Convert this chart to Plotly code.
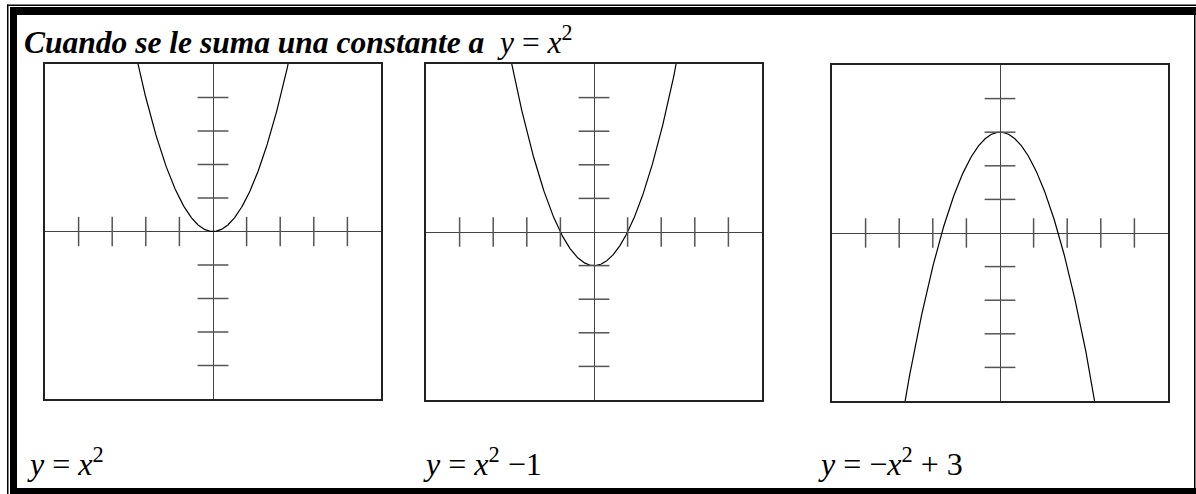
import numpy as np
import plotly.graph_objects as go

W, H = 1196, 494

# ---- data ----
titles = ["<i>y</i>&nbsp;=&nbsp;<i>x</i><sup>2</sup>",
          "<i>y</i>&nbsp;=&nbsp;<i>x</i><sup>2</sup>&nbsp;−1",
          "<i>y</i>&nbsp;=&nbsp;−<i>x</i><sup>2</sup>&nbsp;+&nbsp;3"]
coef_a = [1, 1, -1]          # y = a*x^2 + c
coef_c = [0, -1, 3]
x_ticks = [-4, -3, -2, -1, 1, 2, 3, 4]
y_ticks = [-4, -3, -2, -1, 1, 2, 3, 4]
axis_range = [-5, 5]

# ---- layout geometry (pixels) ----
panels = [(45, 381, 64, 399), (426, 762, 64, 400), (832, 1168, 65, 401)]
label_x = [25, 421, 816]

fig = go.Figure()
layout = dict(width=W, height=H, margin=dict(l=0, r=0, t=0, b=0),
              paper_bgcolor="white", plot_bgcolor="white", showlegend=False)

xs = np.linspace(axis_range[0], axis_range[1], 601)
for i, (L, R, T, B) in enumerate(panels):
    n = "" if i == 0 else str(i + 1)
    xa, ya = "x" + n, "y" + n
    ax_common = dict(range=axis_range, showgrid=False, showticklabels=False, ticks="",
                     showline=True, mirror=True, linewidth=2, linecolor="#222",
                     zeroline=True, zerolinewidth=1.2, zerolinecolor="#444", fixedrange=True)
    layout["xaxis" + n] = dict(domain=[L / W, R / W], anchor=ya, **ax_common)
    layout["yaxis" + n] = dict(domain=[1 - B / H, 1 - T / H], anchor=xa, **ax_common)
    ys = coef_a[i] * xs ** 2 + coef_c[i]
    fig.add_trace(go.Scatter(x=xs, y=ys, mode="lines", xaxis=xa, yaxis=ya,
                             line=dict(color="black", width=1.2), hoverinfo="skip"))
    fig.add_trace(go.Scatter(x=x_ticks, y=[0] * len(x_ticks), mode="markers", xaxis=xa, yaxis=ya,
                             marker=dict(symbol="line-ns", size=21, line=dict(color="#555", width=1.5)),
                             hoverinfo="skip"))
    fig.add_trace(go.Scatter(x=[0] * len(y_ticks), y=y_ticks, mode="markers", xaxis=xa, yaxis=ya,
                             marker=dict(symbol="line-ew", size=22, line=dict(color="#555", width=1.5)),
                             hoverinfo="skip"))

fig.update_layout(**layout)

def py(p):
    return 1 - p / H

shapes = [
    dict(type="rect", xref="paper", yref="paper", x0=7 / W, x1=1, y0=py(6), y1=py(4.5),
         fillcolor="black", line=dict(width=0)),
    dict(type="rect", xref="paper", yref="paper", x0=10 / W, x1=1, y0=py(15), y1=py(7),
         fillcolor="black", line=dict(width=0)),
    dict(type="rect", xref="paper", yref="paper", x0=7 / W, x1=8.5 / W, y0=0, y1=py(4.5),
         fillcolor="black", line=dict(width=0)),
    dict(type="rect", xref="paper", yref="paper", x0=10 / W, x1=17 / W, y0=0, y1=py(7),
         fillcolor="black", line=dict(width=0)),
    dict(type="rect", xref="paper", yref="paper", x0=1194 / W, x1=1195.5 / W, y0=0, y1=py(7),
         fillcolor="black", line=dict(width=0)),
    dict(type="rect", xref="paper", yref="paper", x0=10 / W, x1=1, y0=0, y1=py(488),
         fillcolor="black", line=dict(width=0)),
]
fig.update_layout(shapes=shapes)

tfont = dict(family="Liberation Serif, Times New Roman, serif", size=31.5, color="black")
lfont = dict(family="Liberation Serif, Times New Roman, serif", size=32, color="black")
annotations = [
    dict(text="<b><i>Cuando se le suma una constante a</i></b>&nbsp;&nbsp;<i>y</i>&nbsp;=&nbsp;<i>x</i><sup>2</sup>",
         xref="paper", yref="paper", x=22 / W, y=py(40), xanchor="left", yanchor="middle",
         showarrow=False, font=tfont),
]
for i, t in enumerate(titles):
    annotations.append(dict(text=t, xref="paper", yref="paper", x=label_x[i] / W, y=py(462),
                            xanchor="left", yanchor="middle", showarrow=False, font=lfont))
fig.update_layout(annotations=annotations)

fig.write_html("out.html", config={"displayModeBar": False},
               post_script="document.body.style.margin='0';document.body.style.overflow='hidden';")
